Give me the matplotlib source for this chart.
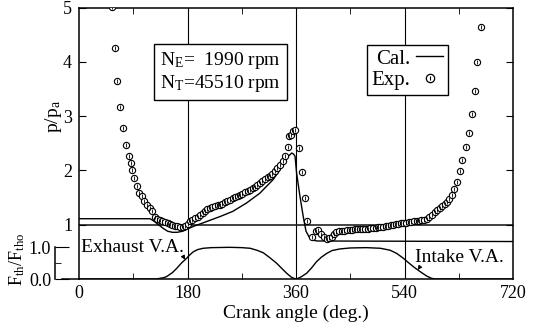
import numpy as np
import matplotlib
matplotlib.use("Agg")
import matplotlib.pyplot as plt
from matplotlib.lines import Line2D
from matplotlib.legend_handler import HandlerTuple

plt.rcParams['font.family'] = ['Liberation Serif', 'DejaVu Serif']
plt.rcParams['mathtext.fontset'] = 'custom'
plt.rcParams['mathtext.rm'] = 'Liberation Serif'
plt.rcParams['mathtext.it'] = 'Liberation Serif:italic'

# ---------------- data ----------------
exp_angle = [55, 60, 63, 68, 73, 78, 83, 86, 88, 91, 96, 100, 104, 108, 112, 117, 121, 126, 130, 134,
             138, 143, 147, 151, 155, 159, 163, 168, 172, 176, 180, 184, 188, 193, 197, 201, 205, 209,
             213, 217, 221, 226, 230, 234, 238, 242, 246, 250, 255, 259, 263, 267, 271, 276, 280, 284,
             288, 292, 296, 300, 304, 309, 313, 317, 321, 325, 329, 333, 338, 342, 346, 349, 352, 355,
             359, 365, 369.5, 375, 379, 387, 393, 397, 402, 406, 411, 415, 419, 423, 427, 432, 436, 440,
             444, 449, 453, 458, 462, 466, 470, 475, 479, 483, 488, 492, 496, 500, 505, 509, 513, 517,
             521, 526, 530, 534, 538, 543, 547, 551, 555, 560, 564, 568, 572, 577, 581, 585, 590, 594,
             599, 603, 607, 610, 614, 618, 622, 627, 632, 636, 642, 647, 652, 657, 661, 667]
exp_p = [5.01, 4.26, 3.65, 3.17, 2.79, 2.47, 2.26, 2.14, 2.01, 1.86, 1.71, 1.59, 1.52, 1.43, 1.37, 1.31,
         1.245, 1.15, 1.11, 1.09, 1.07, 1.05, 1.03, 1.02, 1.00, 0.98, 0.97, 0.96, 0.96, 0.98, 1.01, 1.06,
         1.09, 1.12, 1.15, 1.18, 1.21, 1.245, 1.28, 1.31, 1.33, 1.35, 1.36, 1.37, 1.39, 1.42, 1.44, 1.46,
         1.49, 1.51, 1.53, 1.55, 1.57, 1.60, 1.62, 1.64, 1.67, 1.70, 1.73, 1.77, 1.80, 1.84, 1.87, 1.89,
         1.94, 1.99, 2.04, 2.10, 2.18, 2.26, 2.44, 2.63, 2.66, 2.72, 2.74, 2.42, 1.97, 1.49, 1.06, 0.78,
         0.89, 0.895, 0.82, 0.78, 0.74, 0.75, 0.77, 0.82, 0.86, 0.88, 0.89, 0.89, 0.90, 0.90, 0.91, 0.92,
         0.92, 0.92, 0.93, 0.93, 0.93, 0.94, 0.94, 0.94, 0.95, 0.95, 0.96, 0.97, 0.98, 0.99, 1.00, 1.01,
         1.02, 1.03, 1.03, 1.04, 1.05, 1.05, 1.06, 1.06, 1.07, 1.08, 1.09, 1.11, 1.15, 1.18, 1.23, 1.27,
         1.31, 1.35, 1.38, 1.42, 1.47, 1.55, 1.66, 1.78, 1.98, 2.20, 2.44, 2.68, 3.04, 3.47, 4.0, 4.65]

cal_angle = [0, 118, 125, 133, 140, 147, 155, 163, 172, 180, 190, 200, 217, 234, 255, 278, 300, 322,
             339, 347, 353, 356, 358.4, 361, 366.6, 372, 376.6, 382, 386, 395, 720]
cal_p = [1.11, 1.11, 1.06, 0.99, 0.93, 0.88, 0.86, 0.86, 0.88, 0.92, 0.97, 1.01, 1.08, 1.15, 1.245,
         1.40, 1.58, 1.83, 2.10, 2.26, 2.32, 2.30, 2.26, 1.95, 1.52, 1.15, 0.88, 0.77, 0.72, 0.70, 0.69]

valve_angle = [0, 125, 131, 140, 145, 155, 162, 170, 178.7, 183, 189.6, 197, 206, 220, 250, 270, 284,
               295, 305.7, 317, 328, 337, 344.5, 352, 358, 360, 362, 368, 377.7, 386, 394, 402, 411,
               420, 433, 450, 477, 500, 516, 527, 538, 546, 555, 566, 577, 585, 592, 720]
valve_area = [0, 0, 0.01, 0.04, 0.07, 0.2, 0.33, 0.5, 0.65, 0.74, 0.85, 0.92, 0.96, 0.98, 0.99, 0.98,
              0.96, 0.9, 0.82, 0.66, 0.49, 0.32, 0.18, 0.06, 0.01, 0, 0.01, 0.06, 0.18, 0.35, 0.54, 0.68,
              0.8, 0.89, 0.94, 0.97, 0.98, 0.96, 0.9, 0.8, 0.65, 0.52, 0.38, 0.23, 0.09, 0.02, 0, 0]

x_ticks = [0, 180, 360, 540, 720]
x_minor = [90, 270, 450, 630]
p_ticks = [1, 2, 3, 4, 5]
f_ticks = [0.0, 1.0]
f_ticklabels = ['0.0', '1.0']
grid_angles = [180, 360, 540]

# ---------------- figure ----------------
W, H = 541, 323
fig = plt.figure(figsize=(W / 100, H / 100), dpi=100)
L, R, T, B = 79, 513, 7.5, 279
pos = [L / W, 1 - B / H, (R - L) / W, (B - T) / H]
ax = fig.add_axes(pos)

ax.set_xlim(0, 720)
ax.set_ylim(0, 5)
for s in ax.spines.values():
    s.set_linewidth(1.1)

for g in grid_angles:
    ax.axvline(g, color='k', lw=0.8, zorder=1)
ax.axhline(1.0, color='#222222', lw=1.2, zorder=1)

ax.plot(cal_angle, cal_p, color='k', lw=1.0, zorder=3)
ax.plot(exp_angle, exp_p, ls='none', marker='o', ms=4.5, mfc='white', mec='k', mew=0.8, zorder=4)
ax.plot(exp_angle, exp_p, ls='none', marker='|', ms=2.2, mec='k', mew=0.6, zorder=5)

ax.set_xticks(x_ticks)
ax.set_xticks(x_minor, minor=True)
ax.set_yticks(p_ticks)
ax.tick_params(axis='both', which='both', direction='in', labelsize=13, top=True, right=True)
ax.tick_params(axis='y', which='major', length=5, pad=5)
ax.tick_params(axis='x', which='major', length=0, pad=4)
ax.tick_params(axis='x', which='minor', length=4)
ax.set_xlabel('Crank angle (deg.)', fontsize=14, labelpad=2)

# lower panel: throttle area
ax2 = fig.add_axes(pos, sharex=ax)
ax2.patch.set_visible(False)
ax2.set_ylim(0, (B - T) / 32.0)
for k in ['top', 'right', 'bottom']:
    ax2.spines[k].set_visible(False)
ax2.spines['left'].set_position(('outward', 17))
ax2.spines['left'].set_bounds(0, 1)
ax2.spines['left'].set_linewidth(1.1)
ax2.set_yticks(f_ticks)
ax2.set_yticklabels(f_ticklabels)
ax2.set_yticks([0.5], minor=True)
ax2.tick_params(axis='y', which='major', direction='in', length=10, labelsize=13, pad=3)
ax2.tick_params(axis='y', which='minor', direction='in', length=4)
ax2.tick_params(axis='x', which='both', bottom=False, labelbottom=False)
ax2.plot([-17 / (R - L), 0], [0, 0], transform=ax2.transAxes, color='k', lw=1.1, clip_on=False)
ax2.plot(valve_angle, valve_area, color='k', lw=1.0)

ex_a = 176
in_a = 562
ax2.annotate('Exhaust V.A.', xy=(ex_a, np.interp(ex_a, valve_angle, valve_area)),
             xytext=(3, 1.0), textcoords='data', fontsize=14, ha='left', va='center',
             arrowprops=dict(arrowstyle='-|>', color='k', lw=0.7, mutation_scale=6,
                             shrinkA=0, shrinkB=0, relpos=(0.98, 0.1)))
ax2.annotate('Intake V.A.', xy=(in_a, np.interp(in_a, valve_angle, valve_area)),
             xytext=(558, 0.68), textcoords='data', fontsize=14, ha='left', va='center',
             arrowprops=dict(arrowstyle='-|>', color='k', lw=0.7, mutation_scale=6,
                             shrinkA=0, shrinkB=0, relpos=(0.06, 0.0)))

# labels
fig.text(54 / W, 1 - 117 / H, r'p/p$_\mathrm{a}$', rotation=90, ha='center', va='center', fontsize=14)
fig.text(17 / W, 1 - 259 / H, r'F$_\mathrm{th}$/F$_\mathrm{tho}$', rotation=90, ha='center',
         va='center', fontsize=13)

# condition box
ax.text((160 - L) / (R - L), 1 - (50 - T) / (B - T),
        'N$_\\mathrm{E}$=  1990 rpm\nN$_\\mathrm{T}$=45510 rpm', transform=ax.transAxes,
        fontsize=14, ha='left', va='top', linespacing=1.15,
        bbox=dict(boxstyle='square,pad=0.3', fc='white', ec='k', lw=1.0), zorder=6)

# legend
h_cal = Line2D([], [], color='k', lw=1.0)
h_o = Line2D([], [], ls='none', marker='o', ms=6, mfc='white', mec='k', mew=0.9)
h_t = Line2D([], [], ls='none', marker='|', ms=3, mec='k', mew=0.8)
leg = ax.legend([h_cal, (h_o, h_t)], ['Cal.', 'Exp.'], loc='upper left',
                bbox_to_anchor=((367 - L) / (R - L), 1 - (45 - T) / (B - T)),
                markerfirst=False, fontsize=15, frameon=True, fancybox=False, edgecolor='k',
                framealpha=1, borderpad=0.2, labelspacing=0.1, handlelength=1.3,
                handletextpad=0.3, borderaxespad=0,
                handler_map={tuple: HandlerTuple(ndivide=1)})
leg.get_frame().set_linewidth(1.0)
leg.set_zorder(6)

fig.savefig('out.png', dpi=100)
